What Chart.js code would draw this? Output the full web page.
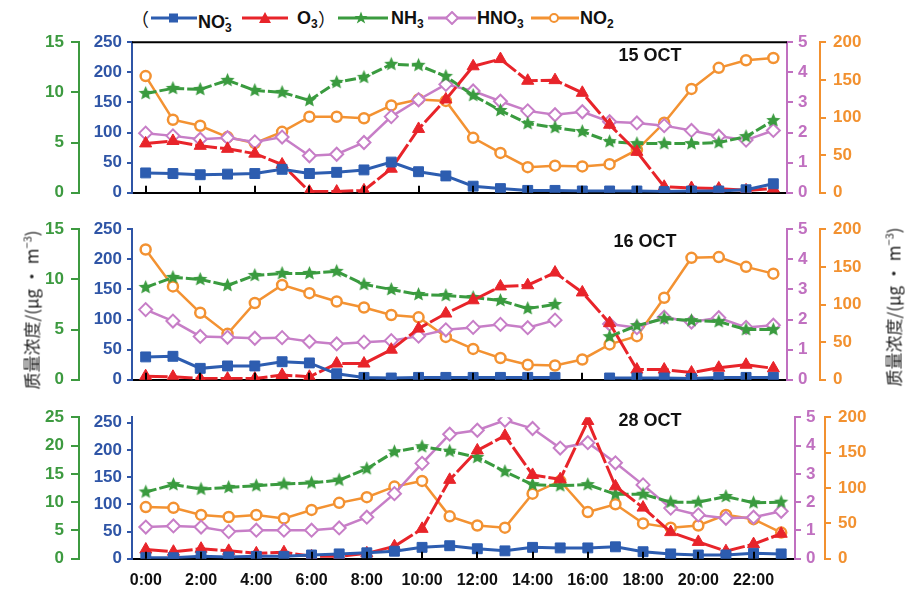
<!DOCTYPE html>
<html>
<head>
<meta charset="utf-8">
<script src="https://cdn.jsdelivr.net/npm/chart.js@4.4.0/dist/chart.umd.min.js"></script>
<style>
  body { margin: 0; background: #fff; }
  #wrap { position: relative; width: 906px; height: 602px; overflow: hidden; font-family: "Liberation Sans", Arial, sans-serif; }
  canvas { position: absolute; left: 0; }
  .ptitle { position: absolute; font-weight: bold; font-size: 18px; color: #111; transform: translate(-50%, -50%); white-space: nowrap; }
  .ytitle { position: absolute; font-family: "Noto Sans CJK SC", sans-serif; font-size: 17px; color: #222; white-space: nowrap; transform: translate(-50%, -50%) rotate(-90deg); }
  .lg { position: absolute; top: 7px; font-weight: bold; font-size: 18px; color: #111; white-space: nowrap; line-height: 22px; }
  .lg sub { font-size: 12px; vertical-align: -4px; }
  .lg sup { font-size: 12px; vertical-align: 6px; }
  .paren { font-family: "Noto Sans CJK SC", sans-serif; font-weight: normal; }
  svg.ic { position: absolute; top: 11px; }
</style>
</head>
<body>
<div id="wrap">
  <span class="lg paren" style="left:131px">（</span>
  <svg class="ic" style="left:150px" width="48" height="14"><line x1="1" y1="7" x2="47" y2="7" stroke="#2d5db0" stroke-width="3"/><rect x="19" y="2.5" width="9" height="9" fill="#2d5db0"/></svg>
  <span class="lg" style="left:198px">NO<sub>3</sub><sup style="margin-left:-7px">-</sup></span>
  <svg class="ic" style="left:241px" width="48" height="14"><line x1="1" y1="7" x2="47" y2="7" stroke="#e8242a" stroke-width="3"/><polygon points="24,1 30,12 18,12" fill="#e8242a"/></svg>
  <span class="lg" style="left:297px">O<sub>3</sub></span>
  <span class="lg paren" style="left:318px">）</span>
  <svg class="ic" style="left:337px" width="52" height="14"><line x1="1" y1="7" x2="51" y2="7" stroke="#3a9b3f" stroke-width="3"/><polygon points="24,0.5 25.7,5 30.5,5 26.6,8 28.2,12.6 24,9.8 19.8,12.6 21.4,8 17.5,5 22.3,5" fill="#3a9b3f"/></svg>
  <span class="lg" style="left:391px">NH<sub>3</sub></span>
  <svg class="ic" style="left:427px" width="50" height="14"><line x1="1" y1="7" x2="49" y2="7" stroke="#c77ec7" stroke-width="3"/><polygon points="25,1 31,7 25,13 19,7" fill="#fff" stroke="#c77ec7" stroke-width="2"/></svg>
  <span class="lg" style="left:477px">HNO<sub>3</sub></span>
  <svg class="ic" style="left:530px" width="50" height="14"><line x1="1" y1="7" x2="49" y2="7" stroke="#f39232" stroke-width="3"/><circle cx="24" cy="7" r="4" fill="#fff" stroke="#f39232" stroke-width="2"/></svg>
  <span class="lg" style="left:580px">NO<sub>2</sub></span>

  <canvas id="c1" width="906" height="185" style="top:25px"></canvas>
  <canvas id="c2" width="906" height="185" style="top:212px"></canvas>
  <canvas id="c3" width="906" height="202" style="top:400px"></canvas>

  <div class="ptitle" style="left:650px;top:55px">15 OCT</div>
  <div class="ptitle" style="left:645px;top:241px">16 OCT</div>
  <div class="ptitle" style="left:650px;top:420px">28 OCT</div>

  <div class="ytitle" style="left:31px;top:310px">质量浓度/(μg · m<sup style="font-size:11px">−3</sup>)</div>
  <div class="ytitle" style="left:893px;top:307px">质量浓度/(μg · m<sup style="font-size:11px">−3</sup>)</div>
</div>
<script>
// hours
const hours = ['0:00','1:00','2:00','3:00','4:00','5:00','6:00','7:00','8:00','9:00','10:00','11:00',
  '12:00','13:00','14:00','15:00','16:00','17:00','18:00','19:00','20:00','21:00','22:00','23:00'];

// 15 OCT
const no3_15 = [33, 32, 30, 31, 32, 39, 32, 34, 38, 51, 35, 28, 11, 7, 4, 4, 3, 3, 3, 2, 3, 3, 5, 15];
const o3_15 = [82, 86, 78, 73, 65, 47, 2, 2, 4, 40, 106, 155, 210, 222, 186, 187, 166, 113, 68, 10, 8, 7, 4, 7];
const nh3_15 = [9.9, 10.4, 10.3, 11.2, 10.2, 10.0, 9.2, 11.0, 11.5, 12.8, 12.7, 11.6, 9.7, 8.2, 6.9, 6.5, 6.1, 5.1, 4.9, 4.9, 4.9, 5.0, 5.6, 7.2];
const hno3_15 = [1.98, 1.89, 1.78, 1.83, 1.69, 1.85, 1.23, 1.28, 1.67, 2.53, 3.09, 3.6, 3.38, 3.04, 2.72, 2.59, 2.69, 2.36, 2.32, 2.23, 2.07, 1.88, 1.75, 2.07];
const no2_15 = [155, 97, 89, 74, 66, 81, 101, 101, 99, 116, 124, 122, 73, 53, 34, 36, 35, 38, 57, 93, 138, 166, 176, 179];

// 16 OCT
const no3_16 = [38, 39, 19, 23, 23, 30, 28, 10, 4, 3, 4, 4, 4, 4, 4, 4, null, 3, 3, 3, 2, 4, 4, 4];
const o3_16 = [6, 5, 2, 2, 2, 8, 5, 27, 27, 50, 85, 110, 132, 155, 157, 178, 145, 94, 17, 17, 12, 20, 25, 19];
const nh3_16 = [9.2, 10.2, 10.0, 9.4, 10.4, 10.6, 10.6, 10.8, 9.5, 9.0, 8.5, 8.4, 8.2, 7.9, 7.1, 7.5, null, 4.3, 5.4, 6.1, 5.9, 5.8, 5.0, 5.0];
const hno3_16 = [2.33, 1.95, 1.44, 1.41, 1.38, 1.40, 1.27, 1.19, 1.25, 1.30, 1.45, 1.66, 1.74, 1.84, 1.73, 1.98, null, 1.85, 1.73, 2.08, 1.92, 2.06, 1.74, 1.81];
const no2_16 = [173, 124, 89, 61, 102, 126, 115, 104, 96, 86, 83, 57, 41, 29, 20, 19, 27, 47, 58, 109, 162, 163, 150, 141];

// 28 OCT
const no3_28 = [2, 2, 4.5, 3.4, 4.5, 4.5, 7, 9, 11, 14, 21, 24, 18.5, 14.6, 21, 20, 20, 22, 13, 9, 7, 7, 10, 9];
const o3_28 = [17, 13, 18.5, 14.6, 10, 12, 4.5, 4.5, 10, 23, 55, 145, 199, 226, 154, 146, 253, 133, 94, 49, 31, 14, 27, 46];
const nh3_28 = [11.8, 13.1, 12.3, 12.6, 12.9, 13.2, 13.4, 13.9, 15.9, 18.9, 19.8, 19.0, 17.9, 15.4, 13.1, 12.9, 13.1, 11.4, 11.4, 10.0, 10.0, 11.0, 9.9, 10.0];
const hno3_28 = [1.12, 1.16, 1.12, 0.96, 1.01, 1.01, 1.01, 1.09, 1.47, 2.30, 3.37, 4.40, 4.54, 4.89, 4.60, 3.91, 4.10, 3.39, 2.61, 1.79, 1.55, 1.43, 1.47, 1.68];
const no2_28 = [73, 72, 62, 59, 62, 57, 69, 79, 87, 102, 110, 60, 47, 44, 92, 110, 66, 77, 50, 44, 47, 62, 56, 37];

// tick values of the shared NO3 / O3 axis
const blueTicks = [0, 50, 100, 150, 200, 250];

const BLUE = '#2d5db0', RED = '#e8242a', GREEN = '#3a9b3f', PURPLE = '#c77ec7', ORANGE = '#f39232';
const BLUE_T = '#2f55a6', GREEN_T = '#3d9a40', PURPLE_T = '#c070c0', ORANGE_T = '#f29130';

// filled star marker for NH3
function starImg(color, r) {
  const c = document.createElement('canvas');
  const s = Math.ceil(r * 2 + 2);
  c.width = s; c.height = s;
  const g = c.getContext('2d');
  g.beginPath();
  for (let i = 0; i < 10; i++) {
    const a = -Math.PI / 2 + i * Math.PI / 5;
    const rr = i % 2 ? r * 0.45 : r;
    g.lineTo(s / 2 + rr * Math.cos(a), s / 2 + rr * Math.sin(a));
  }
  g.closePath();
  g.fillStyle = color;
  g.fill();
  return c;
}
const star = starImg(GREEN, 7.5);

function sets(no3, o3, nh3, hno3, no2) {
  return [
    { label: 'NO3', data: no3, yAxisID: 'yB', borderColor: BLUE, backgroundColor: BLUE, borderWidth: 3,
      pointStyle: 'rect', pointRadius: 7, pointBorderWidth: 1 },
    { label: 'O3', data: o3, yAxisID: 'yB', borderColor: RED, backgroundColor: RED, borderWidth: 3, borderDash: [22, 3],
      pointStyle: 'triangle', pointRadius: 7, pointBorderWidth: 1 },
    { label: 'NH3', data: nh3, yAxisID: 'yG', borderColor: GREEN, backgroundColor: GREEN, borderWidth: 3, borderDash: [11, 3],
      pointStyle: star },
    { label: 'HNO3', data: hno3, yAxisID: 'yP', borderColor: PURPLE, backgroundColor: '#fff', borderWidth: 2.5,
      pointStyle: 'rectRot', pointRadius: 6.5, pointBorderWidth: 2 },
    { label: 'NO2', data: no2, yAxisID: 'yO', borderColor: ORANGE, backgroundColor: '#fff', borderWidth: 2.5,
      pointStyle: 'circle', pointRadius: 5, pointBorderWidth: 2.5 }
  ];
}

function yScale(o) {
  const s = {
    type: 'linear', position: o.pos, weight: o.weight, min: 0, max: o.max,
    grid: { drawOnChartArea: false, color: o.color, lineWidth: 2, tickLength: o.tl, tickWidth: 2 },
    border: { color: o.color, width: 2 },
    ticks: { stepSize: o.step, color: o.color, padding: o.pad, font: { family: 'Liberation Sans', size: 17, weight: 'bold' } },
    afterFit: sc => { sc.width = o.w; }
  };
  if (o.list) s.afterBuildTicks = sc => { sc.ticks = o.list.map(v => ({ value: v })); };
  return s;
}

// inner tick marks on the time axis, plus the top frame on the first panel
const marks = {
  id: 'marks',
  afterDatasetsDraw(chart, args, opts) {
    const { ctx, chartArea: a, scales: { x } } = chart;
    ctx.save();
    ctx.strokeStyle = '#000';
    ctx.lineWidth = 2;
    ctx.beginPath();
    for (let i = 0; i < hours.length; i += 2) {
      const px = Math.round(x.getPixelForValue(i));
      ctx.moveTo(px, a.bottom);
      ctx.lineTo(px, a.bottom - 7);
    }
    if (opts.top) {
      ctx.moveTo(a.left, a.top);
      ctx.lineTo(a.right, a.top);
    }
    ctx.stroke();
    ctx.restore();
  }
};

function panel(id, ds, p) {
  return new Chart(document.getElementById(id), {
    type: 'line',
    data: { labels: hours, datasets: ds },
    options: {
      responsive: false,
      animation: false,
      events: [],
      layout: { padding: { left: 30, right: 36, top: p.top, bottom: p.bottom } },
      plugins: { legend: { display: false }, tooltip: { enabled: false }, marks: { top: p.frame } },
      scales: {
        x: {
          type: 'category', offset: true,
          grid: { drawOnChartArea: false, drawTicks: false, offset: false },
          border: { color: '#000', width: 2 },
          ticks: {
            display: p.labels, autoSkip: false, maxRotation: 0, padding: 12, color: '#111',
            font: { family: 'Liberation Sans', size: 16, weight: 'bold' },
            callback: (v, i) => (i % 2 === 0 ? hours[i] : '')
          }
        },
        yB: yScale({ pos: 'left', weight: 0, max: p.bMax, list: blueTicks, step: 50, color: BLUE_T, tl: 5, pad: 5, w: 53 }),
        yG: yScale({ pos: 'left', weight: 1, max: p.gMax, step: 5, color: GREEN_T, tl: 8, pad: 7, w: 49 }),
        yP: yScale({ pos: 'right', weight: 0, max: 5, step: 1, color: PURPLE_T, tl: 6, pad: 5, w: p.pw }),
        yO: yScale({ pos: 'right', weight: 1, max: 200, step: 50, color: ORANGE_T, tl: 6, pad: 7, w: p.ow })
      }
    },
    plugins: [marks]
  });
}

panel('c1', sets(no3_15, o3_15, nh3_15, hno3_15, no2_15),
  { top: 16, bottom: 14, frame: true, labels: false, bMax: 250, gMax: 15, pw: 33, ow: 50 });
panel('c2', sets(no3_16, o3_16, nh3_16, hno3_16, no2_16),
  { top: 16, bottom: 14, frame: false, labels: false, bMax: 250, gMax: 15, pw: 33, ow: 50 });
panel('c3', sets(no3_28, o3_28, nh3_28, hno3_28, no2_28),
  { top: 15, bottom: 0, frame: false, labels: true, bMax: 260, gMax: 25, pw: 30, ow: 45 });
</script>
</body>
</html>
